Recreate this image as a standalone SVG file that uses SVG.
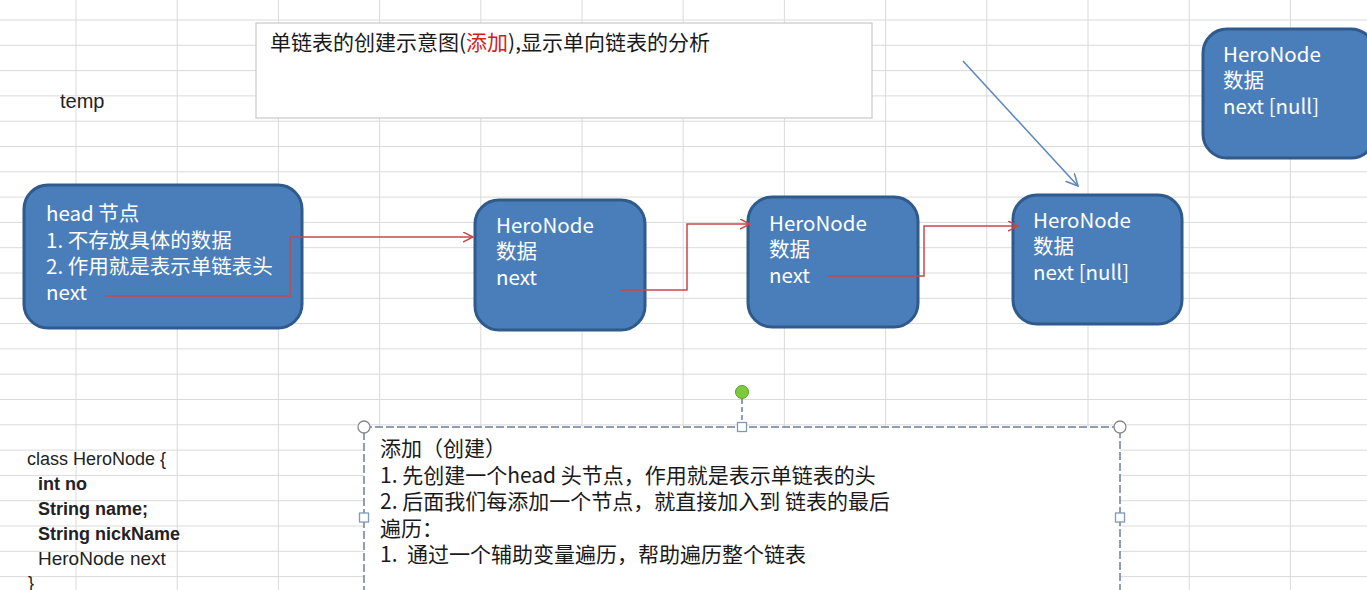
<svg xmlns="http://www.w3.org/2000/svg" width="1367" height="590" viewBox="0 0 1367 590">
<style>
.grid{stroke:#dadada;stroke-width:1;fill:none}
.node rect{fill:#4a7ebb;stroke:#2f5a8c;stroke-width:3}
.nt{font-family:'Noto Sans CJK SC','Noto Sans',sans-serif;font-size:20.5px;fill:#ffffff}
.bt{font-family:'Noto Sans CJK SC','Noto Sans',sans-serif;font-size:21px;fill:#1a1a1a}
.ct{font-family:'Liberation Sans',Arial,sans-serif;font-size:18px;fill:#222222}
.red{stroke:#c8484a;stroke-width:1.5;fill:none}
.blue{stroke:#5b86bf;stroke-width:1.5;fill:none}
.hc{fill:#ffffff;stroke:#8a8a8a;stroke-width:1.3}
.hs{fill:#ffffff;stroke:#8097b8;stroke-width:1.3}
</style>
<defs>
<marker id="ar" markerWidth="12" markerHeight="12" refX="10" refY="5" orient="auto" markerUnits="userSpaceOnUse">
<path d="M0,0 L10,5 L0,10" fill="none" stroke="#c8484a" stroke-width="1.5"/>
</marker>
<marker id="ab" markerWidth="14" markerHeight="14" refX="12" refY="6" orient="auto" markerUnits="userSpaceOnUse">
<path d="M0,0 L12,6 L0,12" fill="none" stroke="#5b86bf" stroke-width="1.5"/>
</marker>
</defs>
<rect width="1367" height="590" fill="#ffffff"/>
<g id="grid">
<path class="grid" d="M76 0V590M177.2 0V590M278.4 0V590M379.6 0V590M480.8 0V590M582 0V590M683.2 0V590M784.4 0V590M885.6 0V590M986.8 0V590M1088 0V590M1189.2 0V590M1290.4 0V590"/>
<path class="grid" d="M0 20H1367M0 45.3H1367M0 70.6H1367M0 95.9H1367M0 121.2H1367M0 146.5H1367M0 171.8H1367M0 197.1H1367M0 222.4H1367M0 247.7H1367M0 273H1367M0 298.3H1367M0 323.6H1367M0 348.9H1367M0 374.2H1367M0 399.5H1367M0 424.8H1367M0 450.1H1367M0 475.4H1367M0 500.7H1367M0 526H1367M0 551.3H1367M0 576.6H1367"/>
</g>
<g id="temp"><text class="ct" x="60" y="108" style="font-size:20px">temp</text></g>
<g id="title">
<rect x="256" y="23" width="616" height="95" fill="#ffffff" stroke="#c8c8c8" stroke-width="1.2"/>
<text class="bt" x="270" y="50">单链表的创建示意图(<tspan fill="#d42020">添加</tspan>),显示单向链表的分析</text>
</g>
<g id="head" class="node">
<rect x="24" y="185" width="278" height="143" rx="24"/>
<text class="nt" x="46" y="221">head 节点</text>
<text class="nt" x="46" y="247.5">1. 不存放具体的数据</text>
<text class="nt" x="46" y="274">2. 作用就是表示单链表头</text>
<text class="nt" x="46" y="300">next</text>
</g>
<g id="node1" class="node">
<rect x="475" y="200" width="170" height="130" rx="24"/>
<text class="nt" x="496" y="233">HeroNode</text>
<text class="nt" x="496" y="259">数据</text>
<text class="nt" x="496" y="285">next</text>
</g>
<g id="node2" class="node">
<rect x="748" y="197" width="170" height="130" rx="24"/>
<text class="nt" x="769" y="231">HeroNode</text>
<text class="nt" x="769" y="257">数据</text>
<text class="nt" x="769" y="283">next</text>
</g>
<g id="node3" class="node">
<rect x="1013" y="195" width="169" height="129" rx="24"/>
<text class="nt" x="1033" y="228">HeroNode</text>
<text class="nt" x="1033" y="254">数据</text>
<text class="nt" x="1033" y="280">next [null]</text>
</g>
<g id="node4" class="node">
<rect x="1203" y="29" width="172" height="129" rx="24"/>
<text class="nt" x="1223" y="62">HeroNode</text>
<text class="nt" x="1223" y="88">数据</text>
<text class="nt" x="1223" y="114">next [null]</text>
</g>
<g id="connectors">
<path class="red" d="M105 296H290V237H473" marker-end="url(#ar)"/>
<path class="red" d="M620 290H687V224H750" marker-end="url(#ar)"/>
<path class="red" d="M828 276H924V226H1018" marker-end="url(#ar)"/>
<path class="blue" d="M963 61L1078 186" marker-end="url(#ab)"/>
</g>
<g id="classdef">
<text class="ct" x="27" y="465">class HeroNode {</text>
<text class="ct" x="38" y="490" font-weight="bold">int no</text>
<text class="ct" x="38" y="515" font-weight="bold">String name;</text>
<text class="ct" x="38" y="540" font-weight="bold">String nickName</text>
<text class="ct" x="38" y="565" style="font-size:19px">HeroNode next</text>
<text class="ct" x="28" y="589">}</text>
</g>
<g id="textbox">
<rect x="364" y="427" width="756" height="180" fill="#ffffff" stroke="#6d7d99" stroke-width="1.5" stroke-dasharray="8 3"/>
<line x1="742" y1="399" x2="742" y2="423" stroke="#6d7d99" stroke-width="1.5" stroke-dasharray="5 3"/>
<circle cx="742" cy="392" r="6.5" fill="#7ccc3a" stroke="#5e9e2c" stroke-width="1"/>
<circle class="hc" cx="364" cy="427" r="6"/>
<circle class="hc" cx="1120" cy="427" r="6"/>
<rect class="hs" x="737.5" y="422.5" width="9" height="9"/>
<rect class="hs" x="359.5" y="513" width="9" height="9"/>
<rect class="hs" x="1115.5" y="513" width="9" height="9"/>
<text class="bt" x="380" y="456">添加（创建）</text>
<text class="bt" x="380" y="482.5">1. 先创建一个head 头节点，作用就是表示单链表的头</text>
<text class="bt" x="380" y="509">2. 后面我们每添加一个节点，就直接加入到 链表的最后</text>
<text class="bt" x="380" y="535.5">遍历：</text>
<text class="bt" x="380" y="562">1.&#160; 通过一个辅助变量遍历，帮助遍历整个链表</text>
</g>
</svg>
